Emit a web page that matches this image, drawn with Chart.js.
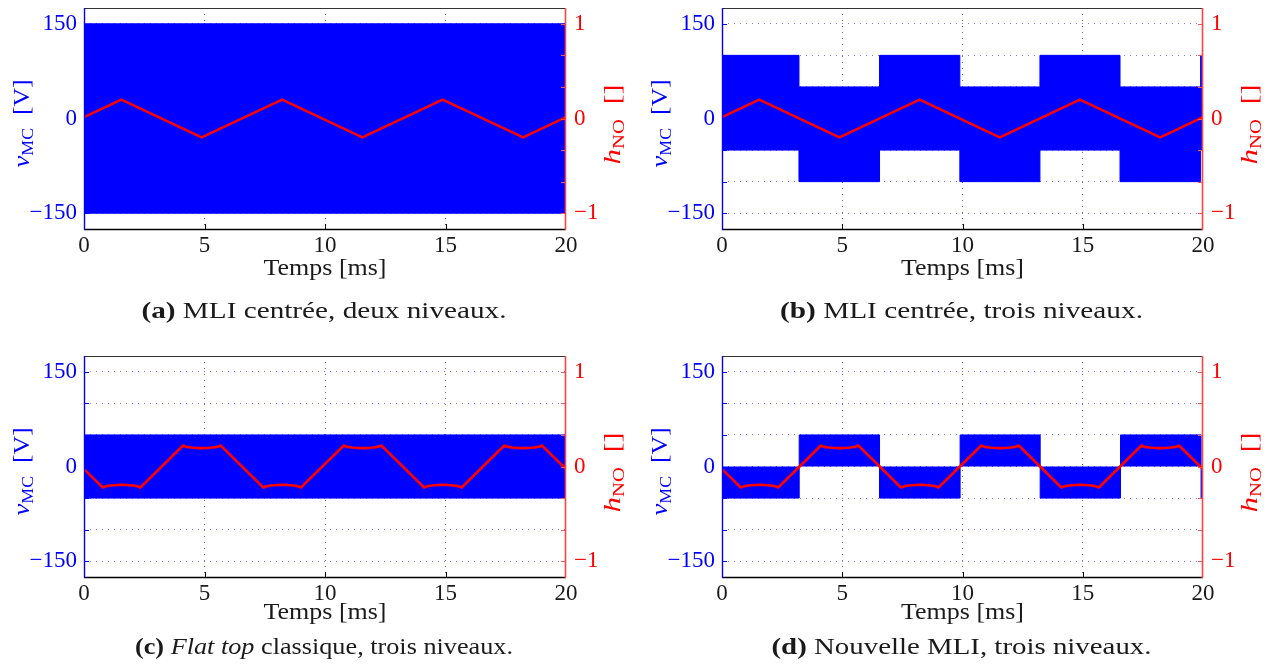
<!DOCTYPE html>
<html><head><meta charset="utf-8">
<script src="https://cdn.jsdelivr.net/npm/chart.js@4.4.1/dist/chart.umd.min.js"></script>
<style>
html,body{margin:0;padding:0;background:#fff;width:1267px;height:672px;overflow:hidden}
canvas{position:absolute}
</style></head><body>
<canvas id="cA" width="633" height="336" style="left:0;top:0"></canvas>
<canvas id="cB" width="634" height="336" style="left:633px;top:0"></canvas>
<canvas id="cC" width="633" height="325" style="left:0;top:347px"></canvas>
<canvas id="cD" width="634" height="325" style="left:633px;top:347px"></canvas>
<script>
// ---------- data ----------
const timeTicks = [0, 5, 10, 15, 20];
const vTicks = [-150, -100, -50, 0, 50, 100, 150];
const vLabelMap = { '-150': '\u2212150', '0': '0', '150': '150' };
const hTicks = [-1, 0, 1];
const hLabels = ['\u22121', '0', '1'];

// (a) centred PWM, two levels
const aBlueT  = [0, 20];
const aBlueHi = [150, 150];
const aBlueLo = [-150, -150];
const triT = [0, 1.55, 4.88, 8.22, 11.55, 14.88, 18.22, 20];
const triH = [0.014, 0.2, -0.2, 0.2, -0.2, 0.2, -0.2, 0.014];

// (b) centred PWM, three levels
const bBlueT  = [0, 3.2, 6.55, 9.89, 13.22, 16.55, 19.9, 20];
const bBlueHi = [100, 50, 100, 50, 100, 50, 100, 100];
const bBlueLo = [-50, -100, -50, -100, -50, -100, -50, -50];

// (c) flat top, three levels
const cBlueT  = [0, 20];
const cBlueHi = [50, 50];
const cBlueLo = [-50, -50];
const flatT = [0, 0.78, 0.92, 1.12, 1.34, 1.56, 1.78, 2.0, 2.2, 2.34,
  4.11, 4.25, 4.45, 4.67, 4.89, 5.11, 5.33, 5.53, 5.67,
  7.44, 7.58, 7.78, 8.0, 8.22, 8.44, 8.66, 8.86, 9.0,
  10.78, 10.92, 11.12, 11.34, 11.56, 11.78, 12.0, 12.2, 12.34,
  14.11, 14.25, 14.45, 14.67, 14.89, 15.11, 15.33, 15.53, 15.67,
  17.44, 17.58, 17.78, 18.0, 18.22, 18.44, 18.66, 18.86, 19.0, 20];
const flatH = [-0.028, -0.222, -0.207, -0.2, -0.196, -0.194, -0.196, -0.2, -0.207, -0.222,
  0.222, 0.207, 0.2, 0.196, 0.194, 0.196, 0.2, 0.207, 0.222,
  -0.222, -0.207, -0.2, -0.196, -0.194, -0.196, -0.2, -0.207, -0.222,
  0.222, 0.207, 0.2, 0.196, 0.194, 0.196, 0.2, 0.207, 0.222,
  -0.222, -0.207, -0.2, -0.196, -0.194, -0.196, -0.2, -0.207, -0.222,
  0.222, 0.207, 0.2, 0.196, 0.194, 0.196, 0.2, 0.207, 0.222, -0.027];

// (d) new PWM, three levels
const dBlueT = [0, 3.21, 6.55, 9.9, 13.23, 16.57, 19.92, 20];
const dBlueV = [-50, 50, -50, 50, -50, 50, -50, -50];

// ---------- drawing helpers ----------
const SERIF = "'Liberation Serif', 'Times New Roman', serif";
const TXT = '#1a1a1a', BLUE = '#0000ff', RED = '#ff0000';

function pts(t, v) { return t.map((x, i) => ({ x: x, y: v[i] })); }

function drawRuns(ctx, runs, cx, cy, color, rot, target) {
  ctx.save();
  ctx.translate(cx, cy);
  if (rot) ctx.rotate(rot);
  let w = 0;
  runs.forEach(r => { ctx.font = r.f; r.w = ctx.measureText(r.t).width; w += r.w; });
  const sx = target ? target / w : 1.08;
  ctx.scale(sx, 1);
  let x = -w / 2;
  ctx.fillStyle = color; ctx.textAlign = 'left'; ctx.textBaseline = 'alphabetic';
  runs.forEach(r => { ctx.font = r.f; ctx.fillText(r.t, x, r.dy || 0); x += r.w; });
  ctx.restore();
}
function line(ctx, x1, y1, x2, y2, c, w) {
  ctx.beginPath(); ctx.strokeStyle = c; ctx.lineWidth = w;
  ctx.moveTo(x1, y1); ctx.lineTo(x2, y2); ctx.stroke();
}

const F = (s, st) => (st || '') + ' ' + s + 'px ' + SERIF;

function makePanel(id, geo, datasets, caption, txt) {
  const frame = {
    id: 'frame' + id,
    afterDatasetsDraw(chart) {
      const ctx = chart.ctx;
      const { left, right, top, bottom } = chart.chartArea;
      const xs = chart.scales.x, ys = chart.scales.y;
      ctx.save();
      line(ctx, left, top + 0.5, right, top + 0.5, '#333333', 1.2);
      line(ctx, left, bottom + 0.5, right, bottom + 0.5, '#000000', 1.3);
      timeTicks.forEach(t => {
        if (t > 0 && t < 20) { const px = Math.round(xs.getPixelForValue(t)) + 0.5; line(ctx, px, bottom, px, bottom - 5, '#000', 1); }
      });
      vTicks.forEach(v => {
        const py = Math.round(ys.getPixelForValue(v)) + 0.5;
        line(ctx, left, py, left + 5, py, BLUE, 1);
        line(ctx, right, py, right - 5, py, '#ff5555', 1);
      });
      line(ctx, left + 0.5, top, left + 0.5, bottom + 1, BLUE, 1.4);
      line(ctx, right - 0.5, top, right - 0.5, bottom + 1, '#ff4444', 1.6);
      ctx.restore();
    },
    afterDraw(chart) {
      const ctx = chart.ctx;
      const { left, right, top, bottom } = chart.chartArea;
      const cx = (left + right) / 2;
      const cy = (top + bottom) / 2;
      drawRuns(ctx, [{ t: 'Temps [ms]', f: F(23) }], cx, bottom + txt.temps, TXT, 0, 123);
      drawRuns(ctx, caption, cx - 1, bottom + txt.cap, TXT, 0, txt.capW);
      drawRuns(ctx, [
        { t: 'v', f: F(24, 'italic') },
        { t: 'MC', f: F(16), dy: 4 },
        { t: '  [V]', f: F(23) }], left - 55, cy + 5, BLUE, -Math.PI / 2, 88);
      drawRuns(ctx, [
        { t: 'h', f: F(24, 'italic') },
        { t: 'NO', f: F(16), dy: 4 },
        { t: '  []', f: F(23) }], right + 54, cy + 6, RED, -Math.PI / 2, 80);
    }
  };
  return new Chart(document.getElementById(id), {
    type: 'line',
    data: { datasets: datasets },
    options: {
      responsive: false, animation: false, devicePixelRatio: 1,
      layout: { padding: { top: geo.top, left: 0, right: 0, bottom: 0 } },
      plugins: { legend: { display: false }, tooltip: { enabled: false } },
      elements: { point: { radius: 0 }, line: { tension: 0 } },
      scales: {
        x: {
          type: 'linear', position: 'bottom', min: 0, max: 20, bounds: 'data',
          afterBuildTicks: s => { s.ticks = timeTicks.map(v => ({ value: v })); },
          afterFit: s => { s.height = geo.xh; s.paddingLeft = 0; s.paddingRight = 0; s.paddingTop = 0; s.paddingBottom = 0; },
          ticks: { autoSkip: false, maxRotation: 0, padding: 3, color: TXT, font: { family: SERIF, size: 23 } },
          grid: { drawTicks: false, color: c => (c.tick && (c.tick.value === 0 || c.tick.value === 20)) ? 'rgba(0,0,0,0)' : '#707070', lineWidth: 1 },
          border: { display: false, dash: [1, 5] }
        },
        y: {
          type: 'linear', position: 'left', min: -175, max: 175, bounds: 'data',
          afterBuildTicks: s => { s.ticks = vTicks.map(v => ({ value: v })); },
          afterFit: s => { s.width = geo.lw; s.paddingTop = 0; s.paddingBottom = 0; },
          ticks: { autoSkip: false, padding: 7, color: BLUE, font: { family: SERIF, size: 23 },
            callback: v => (vLabelMap[String(v)] !== undefined ? vLabelMap[String(v)] : '') },
          grid: { drawTicks: false, color: 'rgba(100,100,255,0.85)', lineWidth: 1 },
          border: { display: false, dash: [1, 5] }
        },
        yR: {
          type: 'linear', position: 'right', min: -175 / 150, max: 175 / 150, bounds: 'data',
          afterBuildTicks: s => { s.ticks = hTicks.map(v => ({ value: v })); },
          afterFit: s => { s.width = geo.rw; s.paddingTop = 0; s.paddingBottom = 0; },
          ticks: { autoSkip: false, padding: 8, color: RED, font: { family: SERIF, size: 23 },
            callback: (v, i) => hLabels[hTicks.indexOf(v)] },
          grid: { drawOnChartArea: false, drawTicks: false },
          border: { display: false }
        }
      }
    },
    plugins: [frame]
  });
}

function redSet(t, h) {
  return { data: pts(t, h), yAxisID: 'yR', borderColor: RED, borderWidth: 2.6, pointRadius: 0, fill: false, order: 0, borderJoinStyle: 'round' };
}
function blueBand(t, hi, lo, stepped) {
  return [
    { data: pts(t, hi), yAxisID: 'y', borderColor: BLUE, backgroundColor: BLUE, borderWidth: 1, pointRadius: 0, fill: '+1', stepped: stepped, order: 1 },
    { data: pts(t, lo), yAxisID: 'y', borderColor: BLUE, backgroundColor: BLUE, borderWidth: 1, pointRadius: 0, fill: false, stepped: stepped, order: 1 }
  ];
}

const geoTop = { top: 8, lw: 84, rw: 67, xh: 107 };
const geoTopR = { top: 8, lw: 89, rw: 64, xh: 107 };
const geoBot = { top: 9, lw: 84, rw: 67, xh: 95 };
const geoBotR = { top: 9, lw: 89, rw: 64, xh: 95 };

makePanel('cA', geoTop, [redSet(triT, triH)].concat(blueBand(aBlueT, aBlueHi, aBlueLo, false)),
  [{ t: '(a)', f: F(23, 'bold') }, { t: ' MLI centrée, deux niveaux.', f: F(23) }], { temps: 46, cap: 89, capW: 365 });
makePanel('cB', geoTopR, [redSet(triT, triH)].concat(blueBand(bBlueT, bBlueHi, bBlueLo, true)),
  [{ t: '(b)', f: F(23, 'bold') }, { t: ' MLI centrée, trois niveaux.', f: F(23) }], { temps: 46, cap: 89, capW: 363 });
makePanel('cC', geoBot, [redSet(flatT, flatH)].concat(blueBand(cBlueT, cBlueHi, cBlueLo, false)),
  [{ t: '(c)', f: F(23, 'bold') }, { t: ' ', f: F(23) }, { t: 'Flat top', f: F(23, 'italic') }, { t: ' classique, trois niveaux.', f: F(23) }], { temps: 42, cap: 77, capW: 378 });
makePanel('cD', geoBotR, [redSet(flatT, flatH),
  { data: pts(dBlueT, dBlueV), yAxisID: 'y', borderColor: BLUE, backgroundColor: BLUE, borderWidth: 1, pointRadius: 0, fill: 'origin', stepped: true, order: 1 }],
  [{ t: '(d)', f: F(23, 'bold') }, { t: ' Nouvelle MLI, trois niveaux.', f: F(23) }], { temps: 42, cap: 77, capW: 380 });
</script>
</body></html>
